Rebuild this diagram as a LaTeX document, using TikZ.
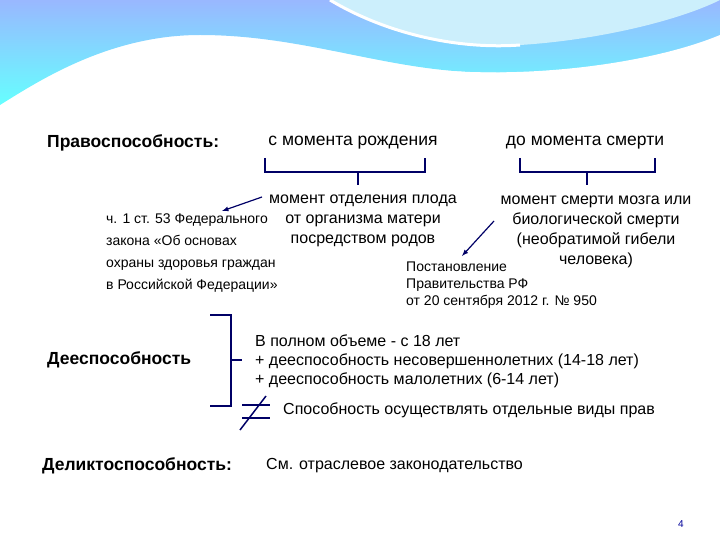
\documentclass[tikz,border=0pt]{standalone}
\usepackage{fontspec}
\setmainfont{Liberation Sans}
\begin{document}
\begin{tikzpicture}[x=1pt,y=-1pt,
  big/.style={font=\fontsize{17.5}{20}\selectfont, inner sep=0pt},
  lab/.style={font=\fontsize{17.5}{19}\selectfont\bfseries, inner sep=0pt},
  mid/.style={font=\fontsize{16}{20}\selectfont, inner sep=0pt, align=center},
  small/.style={font=\fontsize{14}{22}\selectfont, inner sep=0pt, align=left},
  br/.style={draw=blue!40!black, line width=2.2pt},
  arr/.style={draw=blue!40!black, line width=1.2pt, -latex}]
\useasboundingbox (0,0) rectangle (720,540);
% header wave
\shade[top color=cyan!30!blue!40!white, bottom color=cyan!60!white]
  (0,0) -- (720,0) -- (720,40) .. controls (620,70) and (520,75) .. (470,72)
  .. controls (380,68) and (300,35) .. (200,35) .. controls (110,35) and (40,80) .. (0,105) -- cycle;
\fill[white] (0,110) .. controls (40,80) and (110,40) .. (200,40)
  .. controls (300,42) and (380,70) .. (470,72) .. controls (560,75) and (660,60) .. (720,35)
  -- (720,50) .. controls (660,70) and (560,80) .. (470,78)
  .. controls (380,75) and (300,48) .. (200,47) .. controls (120,47) and (50,85) .. (0,115) -- cycle;
\fill[cyan!20!white] (330,0) .. controls (380,30) and (450,50) .. (520,45) .. controls (600,40) and (680,20) .. (720,0) -- cycle;
\draw[white, line width=3pt] (330,0) .. controls (380,30) and (450,50) .. (520,45);

\node[lab, anchor=west] (pravo) at (47,143) {Правоспособность:};
\node[big] (rozh) at (353,143) {с момента рождения};
\node[big] (smert) at (585,143) {до момента смерти};
\draw[br] (265,158) -- (265,172) -- (425,172) -- (425,158);
\draw[br] (358,172) -- (358,185);
\draw[br] (520,158) -- (520,172) -- (655,172) -- (655,158);
\draw[br] (587,172) -- (587,185);
\node[mid] (plod) at (363,221) {момент отделения плода\\от организма матери\\посредством родов};
\node[mid] (mozg) at (596,232) {момент смерти мозга или\\биологической смерти\\(необратимой гибели\\человека)};
\node[small, anchor=north west] (zakon) at (106,214) {ч. 1 ст. 53 Федерального\\закона «Об основах\\охраны здоровья граждан\\в Российской Федерации»};
\node[small, anchor=north west, font=\fontsize{14}{17}\selectfont] (post) at (406,262) {Постановление\\Правительства РФ\\от 20 сентября 2012 г. № 950};
\coordinate (a1) at (262,197);
\coordinate (a1e) at (222,211);
\coordinate (a2) at (494,221);
\coordinate (a2e) at (462,256);
\draw[arr] (a1) -- (a1e);
\draw[arr] (a2) -- (a2e);

\node[lab, anchor=west] (dees) at (47,360) {Дееспособность};
\draw[br] (210,315) -- (231,315) -- (231,406) -- (210,406);
\draw[br] (231,360) -- (242,360);
\node[small, anchor=west, font=\fontsize{16}{19}\selectfont] (ob) at (255,361) {В полном объеме - с 18 лет\\+ дееспособность несовершеннолетних (14-18 лет)\\+ дееспособность малолетних (6-14 лет)};
\draw[br, line width=1.5pt] (242,405) -- (270,405);
\draw[br, line width=1.5pt] (242,418) -- (270,418);
\draw[br, line width=1.5pt] (240,430) -- (266,396);
\node[anchor=west, inner sep=0pt, font=\fontsize{16}{19}\selectfont] (sp) at (283,410) {Способность осуществлять отдельные виды прав};

\node[lab, anchor=west] (delikt) at (42,466) {Деликтоспособность:};
\node[anchor=west, inner sep=0pt, font=\fontsize{16}{19}\selectfont] (sm) at (266,466) {См. отраслевое законодательство};
\node[font=\fontsize{10}{12}\selectfont, text=blue!60!black] (num) at (681,524) {4};
\end{tikzpicture}
\end{document}
